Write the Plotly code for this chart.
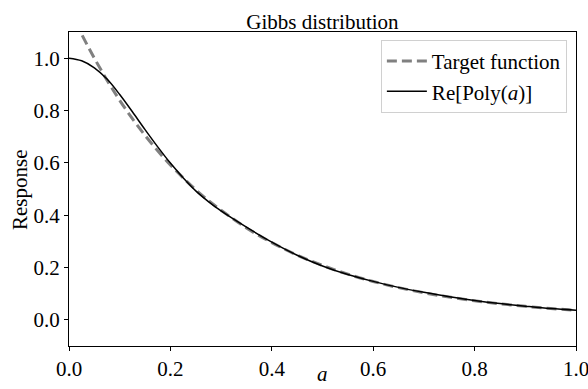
import plotly.graph_objects as go

a_vals = [0.0, 0.025, 0.05, 0.075, 0.1, 0.125, 0.15, 0.175, 0.2, 0.225, 0.25, 0.275, 0.3,
          0.35, 0.4, 0.45, 0.5, 0.55, 0.6, 0.65, 0.7, 0.75, 0.8, 0.85, 0.9, 0.95, 1.0]
target_vals = [1.19, 1.091, 1.0, 0.916, 0.839, 0.769, 0.705, 0.646, 0.592, 0.543, 0.497,
               0.456, 0.419, 0.351, 0.295, 0.2475, 0.208, 0.1745, 0.1466, 0.123, 0.1034,
               0.0869, 0.073, 0.0613, 0.0515, 0.0432, 0.0363]
poly_vals = [1.0, 0.99, 0.963, 0.92, 0.861, 0.795, 0.727, 0.661, 0.599, 0.543, 0.493,
             0.452, 0.416, 0.354, 0.297, 0.247, 0.206, 0.173, 0.147, 0.124, 0.105,
             0.088, 0.074, 0.062, 0.052, 0.043, 0.037]
x_ticks = [0.0, 0.2, 0.4, 0.6, 0.8, 1.0]
y_ticks = [0.0, 0.2, 0.4, 0.6, 0.8, 1.0]

font_family = "Liberation Serif"
fs = 21

fig = go.Figure()
fig.add_trace(go.Scatter(x=a_vals, y=target_vals, mode="lines", name="Target function",
                         line=dict(color="#808080", width=3, dash="10px,5px", shape="spline")))
fig.add_trace(go.Scatter(x=a_vals, y=poly_vals, mode="lines", name="Re[Poly(<i>a</i>)]",
                         line=dict(color="black", width=1.5, shape="spline")))

axis_common = dict(showgrid=False, zeroline=False, showline=True, linecolor="black",
                   linewidth=1, mirror=True, ticks="outside", ticklen=4, tickwidth=1,
                   tickcolor="black", automargin=False, ticklabeloverflow="allow",
                   tickfont=dict(family=font_family, size=fs, color="black"))

fig.update_layout(
    width=588, height=389,
    margin=dict(l=69, r=12, t=32, b=43),
    plot_bgcolor="white", paper_bgcolor="white",
    font=dict(family=font_family, color="black", size=fs),
    title=dict(text="Gibbs distribution", x=0.5, xref="paper", xanchor="center",
               y=1, yref="paper", yanchor="bottom", pad=dict(b=3),
               font=dict(family=font_family, size=fs, color="black")),
    xaxis=dict(range=[0, 1], tickvals=x_ticks, ticktext=[f"{v:.1f}" for v in x_ticks],
               **axis_common),
    yaxis=dict(range=[-0.1, 1.1], tickvals=y_ticks, ticktext=[f"{v:.1f}" for v in y_ticks],
               **axis_common),
    legend=dict(x=0.982, y=0.975, xanchor="right", yanchor="top",
                bgcolor="white", bordercolor="#d0d0d0", borderwidth=1,
                font=dict(family=font_family, size=fs, color="black"),
                tracegroupgap=0, itemwidth=40),
    showlegend=True,
    annotations=[
        dict(text="<i>a</i>", xref="paper", yref="paper", x=0.5, y=-0.088,
             xanchor="center", yanchor="middle", showarrow=False,
             font=dict(family=font_family, size=fs, color="black")),
        dict(text="Response", xref="paper", yref="paper", x=-0.0967, y=0.5,
             xanchor="center", yanchor="middle", textangle=-90, showarrow=False,
             font=dict(family=font_family, size=fs, color="black")),
    ],
)

fig.write_html("out.html")
